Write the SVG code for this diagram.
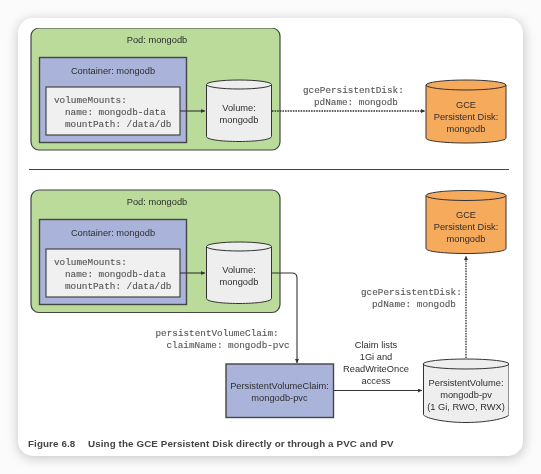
<svg xmlns="http://www.w3.org/2000/svg" width="541" height="474" viewBox="0 0 541 474">
<style>
.s{font-family:"Liberation Sans",Arial,sans-serif;font-size:9.3px;fill:#2e2e2e;text-anchor:middle}
.m{font-family:"Liberation Mono","Courier New",monospace;font-size:9.33px;fill:#555;stroke:#555;stroke-width:.12}
.pod{fill:#bbdb9b;stroke:#444;stroke-width:1.2}
.box{fill:#aab4da;stroke:#444;stroke-width:1.4}
.code{fill:#f0f0f0;stroke:#444;stroke-width:1.2}
.vol{fill:#eeeeee;stroke:#333;stroke-width:1}
.gce{fill:#f6ab5c;stroke:#333;stroke-width:1}
.c{fill:none;stroke:#333;stroke-width:1.1}
.d{stroke-dasharray:1.6 1;stroke-width:1.3}
.cap{font-family:"Liberation Sans",Arial,sans-serif;font-size:9.8px;font-weight:bold;fill:#444;letter-spacing:.11px}
</style>
<defs>
<marker id="a" markerWidth="5" markerHeight="5" refX="4" refY="2" orient="auto" markerUnits="userSpaceOnUse"><path d="M0 0L4 2L0 4Z" fill="#333"/></marker>
<filter id="sh" x="-10%" y="-10%" width="120%" height="120%"><feGaussianBlur stdDeviation="6"/></filter>
<filter id="b" x="0" y="0" width="100%" height="100%"><feGaussianBlur stdDeviation="0.42"/></filter>
</defs>
<rect width="541" height="474" fill="#fbfbfb"/>
<rect x="18" y="20" width="506" height="438" rx="15" fill="#c4c4c4" filter="url(#sh)"/>
<rect x="18" y="18" width="505" height="438" rx="15" fill="#fff"/>
<g filter="url(#b)">
<g id="divider"><path d="M29 169.500H509" stroke="#444" stroke-width="1.2"/></g>
<g id="pod1">
<rect class="pod" x="31" y="28" width="249" height="122" rx="8"/>
<text class="s" x="157" y="43">Pod: mongodb</text>
</g>
<g id="container1">
<rect class="box" x="39.500" y="57.500" width="147" height="85"/>
<text class="s" x="113" y="73.500">Container: mongodb</text>
</g>
<g id="mount1">
<rect class="code" x="46" y="87" width="134" height="48"/>
<text class="m" x="54" y="103">volumeMounts:</text>
<text class="m" x="65" y="115">name: mongodb-data</text>
<text class="m" x="65" y="127">mountPath: /data/db</text>
</g>
<g id="volume1">
<path class="vol" d="M206.500 84.500V136.500C206.500 139.500 221 141.500 239 141.500S271.500 139.500 271.500 136.500V84.500Z"/>
<ellipse class="vol" cx="239" cy="84.500" rx="32.500" ry="4.500"/>
<text class="s" x="239" y="111">Volume:</text>
<text class="s" x="239" y="123">mongodb</text>
</g>
<g id="gce1">
<path class="gce" d="M426 85V138C426 141 444 143 466 143S506 141 506 138V85Z"/>
<ellipse class="gce" cx="466" cy="85" rx="40" ry="5"/>
<text class="s" x="466" y="107.500">GCE</text>
<text class="s" x="466" y="119.500">Persistent Disk:</text>
<text class="s" x="466" y="131.500">mongodb</text>
</g>
<g id="pod2">
<rect class="pod" x="31" y="190" width="249" height="122.500" rx="8"/>
<text class="s" x="157" y="205">Pod: mongodb</text>
</g>
<g id="container2">
<rect class="box" x="39.500" y="219.500" width="147" height="85"/>
<text class="s" x="113" y="235.500">Container: mongodb</text>
</g>
<g id="mount2">
<rect class="code" x="46" y="249" width="134" height="48"/>
<text class="m" x="54" y="265">volumeMounts:</text>
<text class="m" x="65" y="277">name: mongodb-data</text>
<text class="m" x="65" y="289">mountPath: /data/db</text>
</g>
<g id="volume2">
<path class="vol" d="M206.500 246.500V298.500C206.500 301.500 221 303.500 239 303.500S271.500 301.500 271.500 298.500V246.500Z"/>
<ellipse class="vol" cx="239" cy="246.500" rx="32.500" ry="4.500"/>
<text class="s" x="239" y="273">Volume:</text>
<text class="s" x="239" y="285">mongodb</text>
</g>
<g id="gce2">
<path class="gce" d="M426 195.500V248.500C426 251.500 444 253.500 466 253.500S506 251.500 506 248.500V195.500Z"/>
<ellipse class="gce" cx="466" cy="195.500" rx="40" ry="5"/>
<text class="s" x="466" y="217.500">GCE</text>
<text class="s" x="466" y="229.500">Persistent Disk:</text>
<text class="s" x="466" y="241.500">mongodb</text>
</g>
<g id="pvc">
<rect class="box" x="226" y="364" width="107.500" height="53.500"/>
<text class="s" x="279.500" y="389">PersistentVolumeClaim:</text>
<text class="s" x="279.500" y="401">mongodb-pvc</text>
</g>
<g id="pv">
<path class="vol" d="M423.500 364V414.500C423.500 417.500 442 422.500 466 422.500S509 417.500 509 414.500V364Z"/>
<ellipse class="vol" cx="466" cy="364" rx="43" ry="5"/>
<text class="s" x="466" y="386">PersistentVolume:</text>
<text class="s" x="466" y="398">mongodb-pv</text>
<text class="s" x="466" y="410">(1 Gi, RWO, RWX)</text>
</g>
<g id="connectors">
<path class="c" d="M180 111H205" marker-end="url(#a)"/>
<path class="c d" d="M272 111H425" marker-end="url(#a)"/>
<path class="c" d="M180 273H205" marker-end="url(#a)"/>
<path class="c" d="M272 273H292Q297 273 297 278V363" marker-end="url(#a)"/>
<path class="c" d="M334 390.500H422" marker-end="url(#a)"/>
<path class="c d" d="M466 358V256" marker-end="url(#a)"/>
</g>
<g id="labels">
<text class="m" x="303" y="92.500">gcePersistentDisk:</text>
<text class="m" x="314" y="104.500">pdName: mongodb</text>
<text class="m" x="361" y="294.500">gcePersistentDisk:</text>
<text class="m" x="372" y="306.500">pdName: mongodb</text>
<text class="m" x="155.500" y="336">persistentVolumeClaim:</text>
<text class="m" x="166.500" y="348">claimName: mongodb-pvc</text>
<text class="s" x="376" y="348">Claim lists</text>
<text class="s" x="376" y="360">1Gi and</text>
<text class="s" x="376" y="372">ReadWriteOnce</text>
<text class="s" x="376" y="384">access</text>
<text class="cap" x="28" y="447">Figure 6.8</text>
<text class="cap" x="88" y="447">Using the GCE Persistent Disk directly or through a PVC and PV</text>
</g>
</g>
</svg>
